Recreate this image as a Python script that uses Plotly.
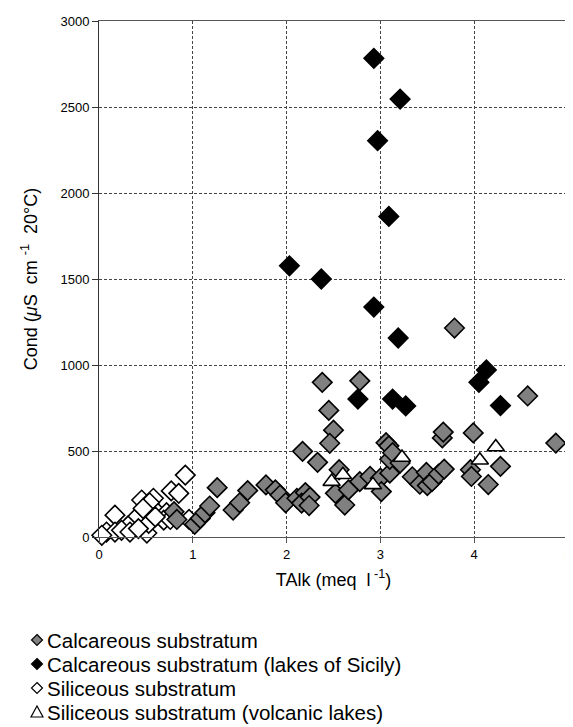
import plotly.graph_objects as go

# Calcareous substratum (grey diamonds)
calc_x = [0.80, 0.83, 1.02, 1.08, 1.13, 1.18, 1.26, 1.43, 1.50, 1.585, 1.78, 1.88, 1.93, 1.99,
          2.11, 2.20, 2.16, 2.25, 2.24, 2.17, 2.33, 2.38, 2.45, 2.50, 2.46, 2.78, 2.52, 2.56,
          2.62, 2.66, 2.78, 2.89, 3.00, 3.10, 3.01, 3.06, 3.09, 3.10, 3.13, 3.21, 3.34,
          3.42, 3.49, 3.50, 3.55, 3.62, 3.68, 3.66, 3.67, 3.79, 3.99, 3.96, 3.97, 4.15, 4.28,
          4.57, 4.87]
calc_y = [147, 102, 74, 108, 141, 180, 287, 157, 199, 270, 303, 274, 244, 199,
          225, 258, 197, 232, 183, 498, 434, 899, 736, 621, 545, 908, 254, 391,
          186, 274, 322, 352, 342, 371, 264, 548, 530, 452, 490, 430, 350,
          307, 375, 299, 322, 366, 395, 576, 610, 1215, 605, 391, 352, 305, 411,
          820, 546]

# Calcareous substratum (lakes of Sicily) (black diamonds)
sic_x = [2.93, 3.21, 2.97, 3.09, 2.03, 2.37, 2.93, 3.19, 2.76, 3.13, 3.27, 4.13, 4.05, 4.28]
sic_y = [2783, 2546, 2304, 1864, 1577, 1500, 1337, 1157, 802, 802, 762, 971, 899, 764]

# Siliceous substratum (white diamonds)
sil_x = [0.92, 0.77, 0.85, 0.455, 0.58, 0.54, 0.17, 0.455, 0.38, 0.31, 0.08, 0.17, 0.24,
         0.33, 0.51, 0.53, 0.63, 0.72, 0.69, 0.76, 0.96, 0.42, 0.03, 0.47, 0.60]
sil_y = [360, 268, 254, 215, 225, 199, 127, 137, 102, 65, 29, 29, 39,
         29, 23, 79, 137, 141, 98, 102, 102, 49, 10, 166, 117]

# Siliceous substratum (volcanic lakes) (white triangles)
vol_x = [2.48, 2.60, 2.92, 3.23, 4.06, 4.23]
vol_y = [322, 362, 303, 462, 446, 523]

x_ticks = [0, 1, 2, 3, 4, 5]
y_ticks = [0, 500, 1000, 1500, 2000, 2500, 3000]

names = ["Calcareous substratum",
         "Calcareous substratum (lakes of Sicily)",
         "Siliceous substratum",
         "Siliceous substratum (volcanic lakes)"]

FONT = "Liberation Sans, Arial, sans-serif"
OFF = 8  # page body margin of the browser
W, H = 573 - OFF, 727 - OFF
ML, MT = 99 - OFF, 21 - OFF
MR = W - (568 - OFF)
MB = H - (537 - OFF)
PW, PH = W - ML - MR, H - MT - MB

fig = go.Figure()

def add(xs, ys, symbol, fill, size, nm):
    fig.add_trace(go.Scatter(
        x=xs, y=ys, mode="markers", name=nm, showlegend=False, cliponaxis=False,
        marker=dict(symbol=symbol, size=size, color=fill,
                    line=dict(color="black", width=1.6))))

add(sil_x, sil_y, "diamond", "white", 15, names[2])
add(calc_x, calc_y, "diamond", "#808080", 15, names[0])
add(sic_x, sic_y, "diamond", "black", 15, names[1])
add(vol_x, vol_y, "triangle-up", "white", 15, names[3])

# legend drawn as paper-anchored pixel shapes + text (page pixel positions)
def px_x(p):
    return (p - OFF - ML) / PW

def px_y(p):
    return (H - MB - (p - OFF)) / PH

diamond = "M 0 5.5 L 5.5 0 L 0 -5.5 L -5.5 0 Z"
triangle = "M -6 -5 L 6 -5 L 0 6 Z"
leg = [(diamond, "#808080"), (diamond, "black"), (diamond, "white"), (triangle, "white")]
row_y = [640, 664, 688, 712]
shapes = []
annotations = []
for (path, col), nm, ry in zip(leg, names, row_y):
    shapes.append(dict(type="path", xref="paper", yref="paper",
                       xsizemode="pixel", ysizemode="pixel",
                       xanchor=px_x(37), yanchor=px_y(ry), path=path,
                       fillcolor=col, line=dict(color="black", width=1.2),
                       layer="above"))
    annotations.append(dict(text=nm, xref="paper", yref="paper",
                            x=px_x(45), y=px_y(ry), xanchor="left", yanchor="middle",
                            showarrow=False, font=dict(family=FONT, size=20.5, color="black")))

fig.update_layout(
    width=W, height=H,
    margin=dict(l=ML, r=MR, t=MT, b=MB),
    paper_bgcolor="white", plot_bgcolor="white",
    font=dict(family=FONT, color="black", size=13),
    showlegend=False,
    shapes=shapes, annotations=annotations,
    xaxis=dict(range=[0, 5], tickvals=x_ticks, ticktext=[str(v) for v in x_ticks],
               showgrid=True, gridcolor="#444444", griddash="3px,2px", gridwidth=1,
               zeroline=False, showline=True, linecolor="#555555", linewidth=1,
               mirror=True, ticks="outside", ticklen=5, tickcolor="#555555",
               tickfont=dict(size=13), automargin=False, ticklabeloverflow="allow",
               title=dict(text="TAlk (meq  l<sup> -1</sup>)", font=dict(size=18), standoff=12)),
    yaxis=dict(range=[0, 3000], tickvals=y_ticks, ticktext=[str(v) for v in y_ticks],
               showgrid=True, gridcolor="#444444", griddash="3px,2px", gridwidth=1,
               zeroline=False, showline=True, linecolor="#333333", linewidth=1,
               mirror=True, ticks="outside", ticklen=6, tickcolor="#333333",
               tickfont=dict(size=13), automargin=False, ticklabeloverflow="allow",
               title=dict(text="Cond (<i>μ</i>S  cm <sup>-1</sup>  20°C)", font=dict(size=18), standoff=18)),
)

fig.write_html("out.html")
